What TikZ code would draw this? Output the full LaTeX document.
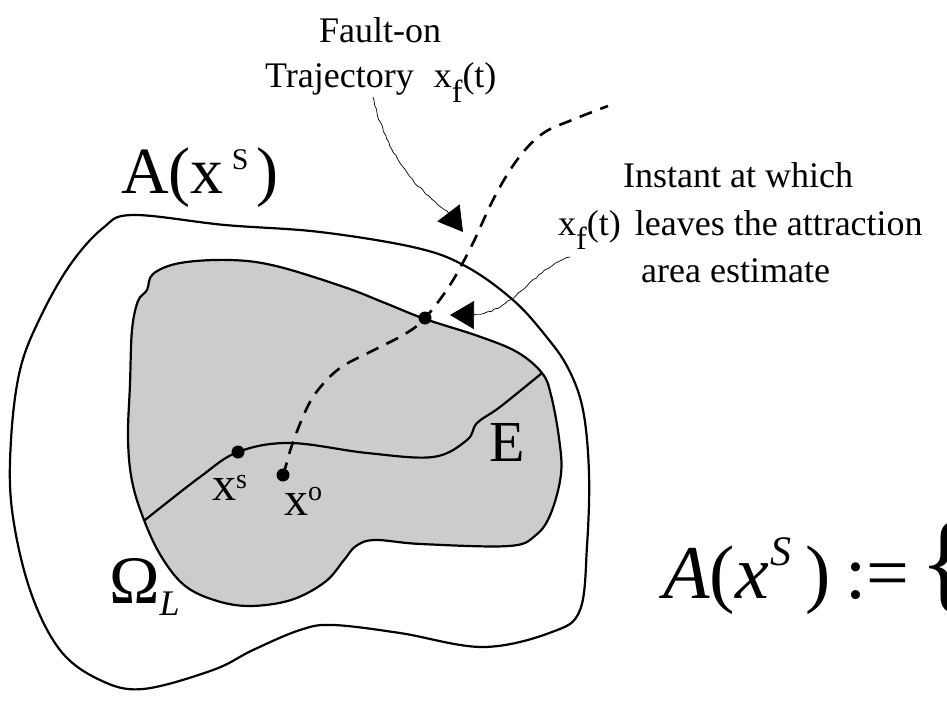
\documentclass[tikz,border=0pt]{standalone}
\usepackage{fontspec}
\setmainfont{Liberation Serif}
\usetikzlibrary{arrows.meta,decorations.pathmorphing}

\newcommand{\lowf}{\raisebox{-14pt}{\fontsize{32}{32}\selectfont f}}
\newcommand{\upidx}[2]{\raisebox{#1}{\fontsize{28}{28}\selectfont #2}}

\tikzset{
  boundary/.style={line width=2.2pt, line join=round},
  traj/.style={line width=2.6pt, dash pattern=on 13pt off 9pt},
  dotmark/.style={circle, fill=black, inner sep=0pt, minimum size=13pt},
  lbl/.style={inner sep=0pt, anchor=base west},
  pointer/.style={line width=0.7pt, -{Triangle[length=24pt,width=28pt]}},
  wiggle/.style={decoration={random steps, segment length=4pt, amplitude=0.8pt}}
}

\begin{document}
\begin{tikzpicture}[x=1pt,y=-1pt]
\useasboundingbox (0,0) rectangle (947,717);

% outer region
\draw[boundary] plot[smooth cycle, tension=0.6] coordinates {
  (103,228) (133,215) (225,225) (320,232) (417,248) (467,267) (513,300)
  (545,335) (568,368) (583,410) (589,474) (587,546) (580,610) (552,632)
  (483,647) (400,633) (333,625) (300,630) (253,650) (213,670) (143,689)
  (100,680) (60,650) (30,590) (12,510) (11,440) (20,370) (40,318) (70,265)};

% attraction area estimate
\filldraw[boundary, fill=black!20] plot[smooth cycle, tension=0.6] coordinates {
  (153,274) (180,263) (230,260) (276,266) (344,287) (385,303) (425,319)
  (478,336) (517,352) (542,373) (551,395) (559,438) (561,474) (551,513)
  (536,535) (509,546) (421,544) (375,540) (356,546) (344,560) (325,582)
  (291,600) (249,606) (214,600) (184,585) (161,556) (144,520) (132,481)
  (128,438) (130,384) (132,330) (138,301) (147,290)};

% dividing curve
\draw[boundary] plot[smooth, tension=0.6] coordinates {
  (145,520) (200,477) (238,452) (290,443) (367,453) (433,457) (467,440)
  (477,423) (500,407) (542,373)};

% points
\node[dotmark] (xs) at (238,452) {};
\node[dotmark] (xo) at (283,475) {};
\node[dotmark] (xexit) at (425,318) {};
\coordinate (trajend) at (608,106);

% fault-on trajectory
\draw[traj] plot[smooth, tension=0.6] coordinates {
  (xo) (287,462) (292,445) (305,412) (318,390) (340,368) (370,352)
  (405,334) (xexit) (450,285) (472,245) (494,198) (517,160)
  (542,134) (572,120) (trajend)};

% labels
\node[lbl, font=\fontsize{36}{36}\selectfont] (faultA) at (319,43) {Fault-on};
\node[lbl, font=\fontsize{36}{36}\selectfont] (faultB) at (265,88)
  {Trajectory\hspace{20pt}x\lowf(t)};
\node[lbl, font=\fontsize{36}{36}\selectfont] (instA) at (623,187) {Instant at which};
\node[lbl, font=\fontsize{36}{36}\selectfont] (instB) at (558,235)
  {x\lowf(t)\hspace{14pt}leaves the attraction};
\node[lbl, font=\fontsize{36}{36}\selectfont] (instC) at (641,282) {area estimate};

\node[lbl, font=\fontsize{66}{66}\selectfont] (attr) at (121,193)
  {A(x\hspace{8pt}\raisebox{24pt}{\fontsize{30}{30}\selectfont S}\hspace{8pt})};
\node[lbl, font=\fontsize{68}{68}\selectfont] (omega) at (109,603)
  {Ω\raisebox{-12pt}{\fontsize{36}{36}\selectfont\textit{L}}};
\node[lbl, font=\fontsize{58}{58}\selectfont] (elab) at (489,461) {E};
\node[lbl, font=\fontsize{48}{48}\selectfont] (xslab) at (212,500) {x\upidx{12pt}{s}};
\node[lbl, font=\fontsize{48}{48}\selectfont] (xolab) at (284,515) {x\upidx{15pt}{o}};

\node[lbl, font=\fontsize{76}{76}\selectfont] (defn) at (663,598)
  {\textit{A}(\textit{x}\hspace{2pt}\raisebox{33pt}{\fontsize{42}{42}\selectfont\textit{S}}\hspace{14pt})\hspace{14pt}:=\hspace{10pt}{\fontsize{110}{110}\selectfont\{}};

% pointers
\coordinate (src1) at (373,97);
\coordinate (tip1) at (463,232);
\coordinate (src2) at (570,257);
\coordinate (tip2) at (450,315);
\draw[pointer] (src1) decorate[wiggle] { .. controls (385,150) and (410,185) .. (447,211) } -- (tip1);
\draw[pointer] (src2) decorate[wiggle] { .. controls (530,270) and (515,312) .. (473,315) } -- (tip2);
\end{tikzpicture}
\end{document}
